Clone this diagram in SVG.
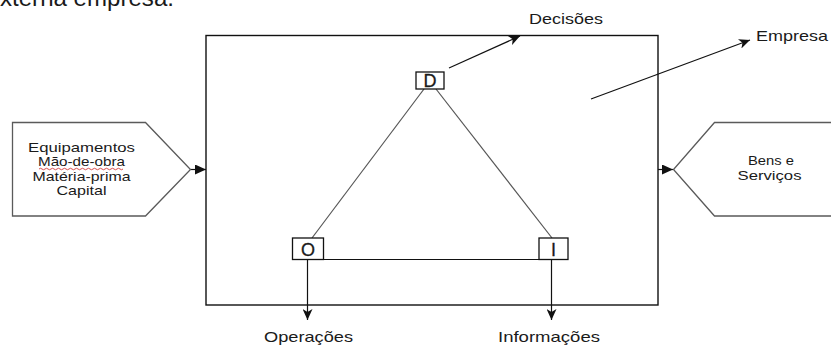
<svg xmlns="http://www.w3.org/2000/svg" width="831" height="347" viewBox="0 0 831 347">
  <style>
    text { font-family: "Liberation Sans", Arial, sans-serif; fill: #1a1a1a; }
    .lbl { font-size: 15px; }
    .in { font-size: 13.5px; text-anchor: middle; }
    .node { fill: #fff; stroke: #111; stroke-width: 1.3; }
    .pent { fill: #fff; stroke: #5a5a5a; stroke-width: 1.3; }
    .edge { fill: none; stroke: #111; stroke-width: 1.2; }
    .tri { fill: none; stroke: #555; stroke-width: 1.2; }
    .letter { font-size: 18px; text-anchor: middle; stroke: #1a1a1a; stroke-width: 0.3; }
  </style>
  <defs>
    <marker id="open" viewBox="0 0 12 10" refX="11" refY="5" markerWidth="12" markerHeight="10" markerUnits="userSpaceOnUse" orient="auto">
      <path d="M0,0 L11,5 L0,10 L3,5 Z" fill="#111"/>
    </marker>
    <marker id="solid" viewBox="0 0 12 10" refX="11" refY="5" markerWidth="12" markerHeight="10" markerUnits="userSpaceOnUse" orient="auto">
      <path d="M0,0 L11,5 L0,10 Z" fill="#111"/>
    </marker>
  </defs>

  <rect width="831" height="347" fill="#fff"/>

  <!-- caption line running off the top edge -->
  <text x="0" y="6" style="font-size:24px" textLength="174" lengthAdjust="spacingAndGlyphs">xterna empresa.</text>

  <!-- company boundary -->
  <g id="empresa-box">
    <rect x="206" y="35.5" width="452" height="269.5" fill="none" stroke="#111" stroke-width="1.4"/>
  </g>

  <!-- connectors -->
  <g id="connectors">
    <line class="tri" x1="424" y1="89" x2="312" y2="238"/>
    <line class="tri" x1="436" y1="89" x2="552" y2="238"/>
    <line class="edge" x1="323" y1="259.5" x2="539" y2="259.5"/>
    <line class="edge" x1="449" y1="68" x2="520" y2="36" marker-end="url(#open)"/>
    <line class="edge" x1="591" y1="99" x2="750" y2="40" marker-end="url(#open)"/>
    <line class="edge" x1="307.5" y1="259" x2="307.5" y2="320" marker-end="url(#open)"/>
    <line class="edge" x1="551.5" y1="259" x2="551.5" y2="320" marker-end="url(#open)"/>
    <line class="edge" x1="191" y1="169.5" x2="206" y2="169.5" marker-end="url(#solid)"/>
    <line class="edge" x1="658" y1="169.5" x2="673" y2="169.5" marker-end="url(#solid)"/>
  </g>

  <!-- inputs -->
  <g id="entradas">
    <path class="pent" d="M12.5,122.5 H145.5 L190.5,169.5 L145.5,216 H12.5 Z"/>
    <text class="in" x="81.5" y="152" textLength="107" lengthAdjust="spacingAndGlyphs">Equipamentos</text>
    <text class="in" x="81.5" y="166.3" textLength="87" lengthAdjust="spacingAndGlyphs">Mão-de-obra</text>
    <path d="M39,169 q1.5,-1.5 3,0 t3,0 t3,0 t3,0 t3,0 t3,0 t3,0 t3,0 t3,0 t3,0 t3,0 t3,0 t3,0 t3,0 t3,0 t3,0 t3,0 t3,0 t3,0 t3,0 t3,0 t3,0 t3,0 t3,0 t3,0 t3,0 t3,0 t3,0" fill="none" stroke="#d43a3a" stroke-width="0.9"/>
    <text class="in" x="81.5" y="180.6" textLength="98" lengthAdjust="spacingAndGlyphs">Matéria-prima</text>
    <text class="in" x="81.5" y="195" textLength="50" lengthAdjust="spacingAndGlyphs">Capital</text>
  </g>

  <!-- outputs -->
  <g id="saidas">
    <path class="pent" d="M840,122.5 H714.5 L673.5,169.5 L714.5,216 H840"/>
    <text class="in" x="771" y="165" textLength="46" lengthAdjust="spacingAndGlyphs">Bens e</text>
    <text class="in" x="769.5" y="180" textLength="64" lengthAdjust="spacingAndGlyphs">Serviços</text>
  </g>

  <g id="node-d">
    <rect class="node" x="416" y="72" width="28" height="17"/>
    <text class="letter" x="430" y="87">D</text>
  </g>
  <g id="node-o">
    <rect class="node" x="292.5" y="238" width="31" height="21.5"/>
    <text class="letter" x="308" y="255.5">O</text>
  </g>
  <g id="node-i">
    <rect class="node" x="539" y="238" width="29" height="21.5"/>
    <text class="letter" x="553.5" y="255.5">I</text>
  </g>

  <!-- labels -->
  <text class="lbl" x="529" y="24" textLength="74" lengthAdjust="spacingAndGlyphs">Decisões</text>
  <text class="lbl" x="756" y="41" textLength="72" lengthAdjust="spacingAndGlyphs">Empresa</text>
  <text class="lbl" x="264" y="341.5" textLength="89" lengthAdjust="spacingAndGlyphs">Operações</text>
  <text class="lbl" x="498" y="341.5" textLength="102" lengthAdjust="spacingAndGlyphs">Informações</text>
</svg>
